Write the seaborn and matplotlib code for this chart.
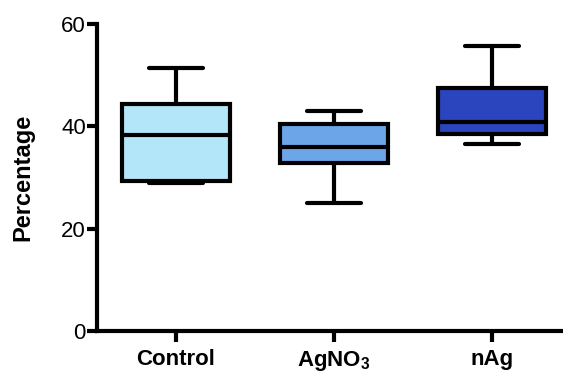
import matplotlib
matplotlib.use("Agg")
import matplotlib.pyplot as plt
import seaborn as sns
import pandas as pd

# Data: five-number summaries (min, Q1, median, Q3, max)
categories = ["Control", "AgNO3", "nAg"]
control_vals = [29.0, 29.3, 38.4, 44.4, 51.5]
agno3_vals = [25.0, 32.8, 36.0, 40.4, 43.0]
nag_vals = [36.5, 38.6, 40.8, 47.4, 55.7]
tick_labels = ["Control", r"AgNO$_\mathbf{3}$", "nAg"]
colors = ["#b3e6f8", "#6ca6e8", "#2a45bd"]

sns.set_style("ticks")
plt.rcParams["font.family"] = ["Liberation Sans", "DejaVu Sans"]
plt.rcParams["mathtext.fontset"] = "custom"
plt.rcParams["mathtext.rm"] = "Liberation Sans"
plt.rcParams["mathtext.bf"] = "Liberation Sans:bold"
plt.rcParams["text.color"] = "black"
plt.rcParams["axes.labelcolor"] = "black"
plt.rcParams["xtick.color"] = "black"
plt.rcParams["ytick.color"] = "black"

rows = []
for cat, vals in zip(categories, [control_vals, agno3_vals, nag_vals]):
    for v in vals:
        rows.append({"group": cat, "value": v})
df = pd.DataFrame(rows)

fig = plt.figure(figsize=(5.63, 3.73), dpi=100)
ax = fig.add_axes([0.1723, 0.1126, 0.842, 0.823])

lw = 3.0
sns.boxplot(data=df, x="group", y="value", order=categories, hue="group",
            palette=colors, saturation=1, legend=False, whis=(0, 100), width=0.68,
            linewidth=lw, linecolor="black", showfliers=False,
            boxprops=dict(edgecolor="black", linewidth=lw),
            whiskerprops=dict(color="black", linewidth=lw),
            capprops=dict(color="black", linewidth=lw),
            medianprops=dict(color="black", linewidth=lw),
            ax=ax)

ax.set_ylim(0, 60)
ax.set_xlim(-0.5, 2.5)
ax.set_yticks([0, 20, 40, 60])
ax.set_xticks([0, 1, 2])
ax.set_xticklabels(tick_labels, fontsize=16, fontweight="bold", color="black")
ax.tick_params(axis="y", labelsize=16, labelcolor="black", width=lw, length=7, direction="out", pad=1)
ax.tick_params(axis="x", width=lw, length=8, direction="out", pad=5)
ax.set_xlabel("")
ax.set_ylabel("Percentage", fontsize=17, fontweight="bold", color="black", labelpad=19)
for s in ["top", "right"]:
    ax.spines[s].set_visible(False)
for s in ["left", "bottom"]:
    ax.spines[s].set_linewidth(lw)
    ax.spines[s].set_color("black")

fig.savefig("out.png", dpi=100)
